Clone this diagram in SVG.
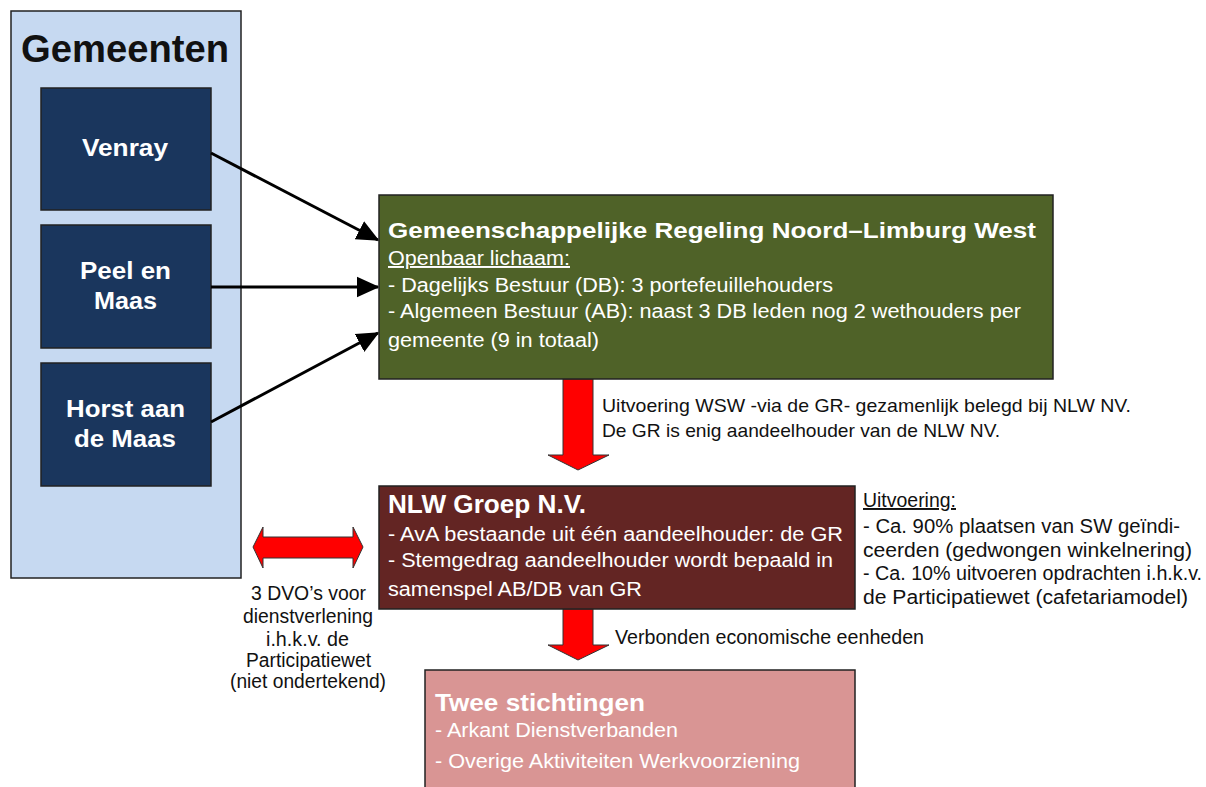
<svg xmlns="http://www.w3.org/2000/svg" width="1206" height="787" viewBox="0 0 1206 787">
<style>
.box{stroke:#222;stroke-width:1.5}
.w{fill:#fff;font-family:"Liberation Sans",Arial,sans-serif}
.b{font-weight:bold}
.k{fill:#111;font-family:"Liberation Sans",Arial,sans-serif}
.ln{stroke:#000;stroke-width:3;fill:none;marker-end:url(#ah)}
.red{fill:#ff0000;stroke:#333;stroke-width:1}
</style>
<defs>
<marker id="ah" markerWidth="8" markerHeight="8" refX="7" refY="4" orient="auto" markerUnits="strokeWidth"><path d="M0,0.6 L7.5,4 L0,7.4 z" fill="#000"/></marker>
</defs>
<rect width="1206" height="787" fill="#fff"/>
<g id="gemeenten">
<rect class="box" x="11" y="11" width="230" height="567" fill="#c6d9f1"/>
<text class="k b" x="21" y="62" font-size="38.5" textLength="208" lengthAdjust="spacingAndGlyphs" fill="#000">Gemeenten</text>
</g>
<g id="venray">
<rect class="box" x="41" y="88" width="170" height="122" fill="#1a365d"/>
<text class="w b" x="82" y="156" font-size="24.5" textLength="86" lengthAdjust="spacingAndGlyphs">Venray</text>
</g>
<g id="peel">
<rect class="box" x="41" y="225" width="170" height="123" fill="#1a365d"/>
<text class="w b" x="80" y="279" font-size="24.5" textLength="91" lengthAdjust="spacingAndGlyphs">Peel en</text>
<text class="w b" x="94" y="309" font-size="24.5" textLength="63" lengthAdjust="spacingAndGlyphs">Maas</text>
</g>
<g id="horst">
<rect class="box" x="41" y="363" width="170" height="123" fill="#1a365d"/>
<text class="w b" x="66" y="417" font-size="24.5" textLength="119" lengthAdjust="spacingAndGlyphs">Horst aan</text>
<text class="w b" x="74" y="447" font-size="24.5" textLength="102" lengthAdjust="spacingAndGlyphs">de Maas</text>
</g>
<g id="connectors">
<line class="ln" x1="211" y1="153" x2="378" y2="240"/>
<line class="ln" x1="211" y1="287" x2="378" y2="287"/>
<line class="ln" x1="211" y1="422" x2="378" y2="333"/>
<polygon class="red" points="563,379 593,379 593,455 609,455 578,470 548,455 563,455"/>
<polygon class="red" points="563,609 593,609 593,645 609,645 578,660 548,645 563,645"/>
<polygon class="red" points="253,547 263,527 263,537 353,537 353,527 363,547 353,568 353,558 263,558 263,568"/>
</g>
<g id="gr">
<rect class="box" x="379" y="195" width="674" height="184" fill="#4f6228"/>
<text class="w b" x="388" y="238" font-size="22" textLength="648" lengthAdjust="spacingAndGlyphs">Gemeenschappelijke Regeling Noord–Limburg West</text>
<text class="w" x="388" y="265" font-size="19.5" textLength="182" lengthAdjust="spacingAndGlyphs" text-decoration="underline">Openbaar lichaam:</text>
<text class="w" x="388" y="292" font-size="19.5" textLength="445" lengthAdjust="spacingAndGlyphs">- Dagelijks Bestuur (DB): 3 portefeuillehouders</text>
<text class="w" x="388" y="318" font-size="19.5" textLength="633" lengthAdjust="spacingAndGlyphs">- Algemeen Bestuur (AB): naast 3 DB leden nog 2 wethouders per</text>
<text class="w" x="388" y="347" font-size="19.5" textLength="211" lengthAdjust="spacingAndGlyphs">gemeente (9 in totaal)</text>
</g>
<g id="label-wsw">
<text class="k" x="602" y="412" font-size="19" textLength="529" lengthAdjust="spacingAndGlyphs">Uitvoering WSW -via de GR- gezamenlijk belegd bij NLW NV.</text>
<text class="k" x="602" y="437" font-size="19" textLength="398" lengthAdjust="spacingAndGlyphs">De GR is enig aandeelhouder van de NLW NV.</text>
</g>
<g id="nlw">
<rect class="box" x="379" y="486" width="476" height="123" fill="#632523"/>
<text class="w b" x="388" y="513" font-size="25" textLength="198" lengthAdjust="spacingAndGlyphs">NLW Groep N.V.</text>
<text class="w" x="388" y="541" font-size="19.5" textLength="455" lengthAdjust="spacingAndGlyphs">- AvA bestaande uit één aandeelhouder: de GR</text>
<text class="w" x="388" y="567" font-size="19.5" textLength="445" lengthAdjust="spacingAndGlyphs">- Stemgedrag aandeelhouder wordt bepaald in</text>
<text class="w" x="388" y="596" font-size="19.5" textLength="254" lengthAdjust="spacingAndGlyphs">samenspel AB/DB van GR</text>
</g>
<g id="label-uitvoering">
<text class="k" x="863" y="507" font-size="19.5" textLength="93" lengthAdjust="spacingAndGlyphs" text-decoration="underline">Uitvoering:</text>
<text class="k" x="863" y="533" font-size="19.5" textLength="317" lengthAdjust="spacingAndGlyphs">- Ca. 90% plaatsen van SW geïndi-</text>
<text class="k" x="863" y="557" font-size="19.5" textLength="329" lengthAdjust="spacingAndGlyphs">ceerden (gedwongen winkelnering)</text>
<text class="k" x="863" y="580" font-size="19.5" textLength="339" lengthAdjust="spacingAndGlyphs">- Ca. 10% uitvoeren opdrachten i.h.k.v.</text>
<text class="k" x="863" y="604" font-size="19.5" textLength="325" lengthAdjust="spacingAndGlyphs">de Participatiewet (cafetariamodel)</text>
</g>
<g id="label-dvo">
<text class="k" x="251" y="600" font-size="19.5" textLength="115" lengthAdjust="spacingAndGlyphs">3 DVO’s voor</text>
<text class="k" x="243" y="623" font-size="19.5" textLength="130" lengthAdjust="spacingAndGlyphs">dienstverlening</text>
<text class="k" x="266" y="646" font-size="19.5" textLength="83" lengthAdjust="spacingAndGlyphs">i.h.k.v. de</text>
<text class="k" x="246" y="667" font-size="19.5" textLength="125" lengthAdjust="spacingAndGlyphs">Participatiewet</text>
<text class="k" x="230" y="688" font-size="19.5" textLength="156" lengthAdjust="spacingAndGlyphs">(niet ondertekend)</text>
</g>
<g id="label-verbonden">
<text class="k" x="615" y="644" font-size="19.5" textLength="309" lengthAdjust="spacingAndGlyphs">Verbonden economische eenheden</text>
</g>
<g id="stichtingen">
<rect class="box" x="425" y="670" width="430" height="130" fill="#d99594"/>
<text class="w b" x="435" y="711" font-size="24.5" textLength="210" lengthAdjust="spacingAndGlyphs">Twee stichtingen</text>
<text class="w" x="435" y="737" font-size="19.5" textLength="243" lengthAdjust="spacingAndGlyphs">- Arkant Dienstverbanden</text>
<text class="w" x="435" y="768" font-size="19.5" textLength="365" lengthAdjust="spacingAndGlyphs">- Overige Aktiviteiten Werkvoorziening</text>
</g>
</svg>
